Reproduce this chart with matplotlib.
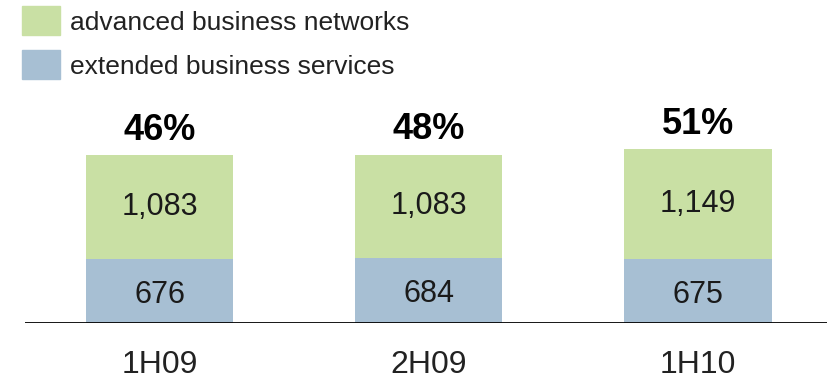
import matplotlib.pyplot as plt
from matplotlib.patches import Rectangle

# data
periods = ["1H09", "2H09", "1H10"]
extended = [676, 684, 675]
advanced = [1083, 1083, 1149]
shares = ["46%", "48%", "51%"]
legend_labels = ["advanced business networks", "extended business services"]

green = "#C9E0A4"
blue = "#A7BFD3"

plt.rcParams['font.family'] = ['Liberation Sans', 'DejaVu Sans']

W, H = 828, 382
fig = plt.figure(figsize=(W / 100, H / 100), dpi=100)
# axes spans from the baseline (y=323px) to the top, x from 25px to the right edge
ax = fig.add_axes([25 / W, 59 / H, 803 / W, 323 / H])
ax.set_xlim(-0.5, 2.485)
ax.set_ylim(0, 3390)

x = range(len(periods))
ax.bar(x, extended, width=0.55, color=blue)
ax.bar(x, advanced, width=0.55, bottom=extended, color=green)

for i in x:
    ax.text(i, extended[i] / 2 - 40, f"{extended[i]:,}", ha="center", va="center", fontsize=22, color="#1a1a1a")
    ax.text(i, extended[i] + advanced[i] / 2, f"{advanced[i]:,}", ha="center", va="center",
            fontsize=22, color="#1a1a1a")
    ax.text(i, extended[i] + advanced[i] + 260, shares[i], ha="center", va="center",
            fontsize=26, fontweight="bold", color="black")
    ax.text(i, -440, periods[i], ha="center", va="center", fontsize=23, color="#222222", clip_on=False)

ax.axhline(0, color="black", lw=2)
for s in ax.spines.values():
    s.set_visible(False)
ax.set_xticks([])
ax.set_yticks([])

# legend drawn by hand in pixel positions
for k, (lab, col) in enumerate(zip(legend_labels, [green, blue])):
    top = 6 + k * 44
    fig.add_artist(Rectangle((22 / W, 1 - (top + 29) / H), 38 / W, 29 / H,
                             transform=fig.transFigure, color=col))
    fig.text(70 / W, 1 - (top + 17) / H, lab, ha="left", va="center", fontsize=19, color="#222222")

fig.savefig("out.png", dpi=100)
